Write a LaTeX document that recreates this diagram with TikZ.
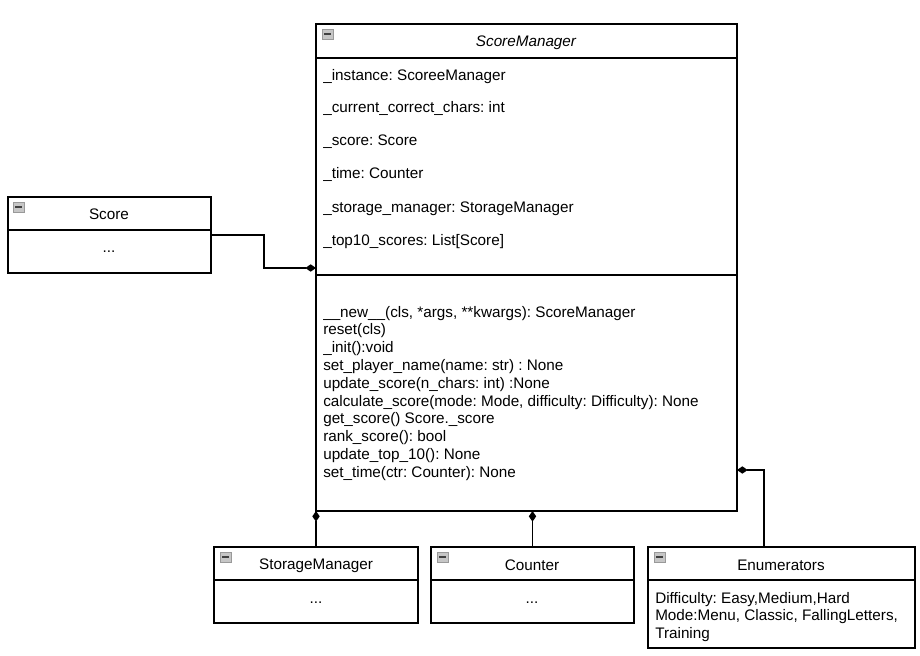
\documentclass[tikz,border=0pt]{standalone}
\usepackage{fontspec}
\setmainfont{Liberation Sans}
\usetikzlibrary{arrows.meta}
\frenchspacing
\begin{document}
\begin{tikzpicture}[x=0.75pt,y=-0.75pt,
  box/.style={draw=black,line width=0.9pt,anchor=north west,inner sep=0pt,outer sep=0pt},
  txt/.style={font=\fontsize{11.45pt}{12pt}\selectfont,inner sep=0pt,anchor=west,yshift=-1.2pt},
  ttl/.style={font=\fontsize{11.45pt}{12pt}\selectfont,inner sep=0pt,yshift=-1.2pt},
  div/.style={line width=0.9pt},
  comp/.style={line width=0.9pt,{Diamond[length=8pt,width=5.5pt]}-},
  icon/.style={draw=gray!80,fill=gray!45,line width=0.5pt}]
\useasboundingbox (0,0) rectangle (920,656);
% ScoreManager
\node[box,minimum width={421*0.75pt},minimum height={487*0.75pt}] (sm) at (316,24) {};
\draw[div] (316,58) -- (737,58);
\draw[div] (316,275) -- (737,275);
\node[ttl,font=\fontsize{11.45pt}{12pt}\selectfont\itshape] (smt) at (526,41) {ScoreManager};
\foreach \yy/\t [count=\i] in {75/\_instance: ScoreeManager,107/\_current\_correct\_chars: int,140/\_score: Score,173/\_time: Counter,207/\_storage\_manager: StorageManager,240/\_top10\_scores: List[Score]}
  \node[txt] (sma\i) at (323,\yy) {\t};
\foreach \yy/\t [count=\i] in {312/\_\_new\_\_(cls{,} *args{,} **kwargs): ScoreManager,329/reset(cls),347/\_init():void,365/set\_player\_name(name: str) : None,383/update\_score(n\_chars: int) :None,401/calculate\_score(mode: Mode{,} difficulty: Difficulty): None,418/get\_score() Score.\_score,436/rank\_score(): bool,454/update\_top\_10(): None,472/set\_time(ctr: Counter): None}
  \node[txt] (smm\i) at (323,\yy) {\t};
% Score
\node[box,minimum width={203*0.75pt},minimum height={76*0.75pt}] (sc) at (8,197) {};
\draw[div] (8,230) -- (211,230);
\node[ttl] (sct) at (109,213) {Score};
\node[ttl] (scd) at (109,250) {...};
% StorageManager
\node[box,minimum width={204*0.75pt},minimum height={76*0.75pt}] (st) at (214,547) {};
\draw[div] (214,580) -- (418,580);
\node[ttl] (stt) at (316,564) {StorageManager};
\node[ttl] (std) at (316,601) {...};
% Counter
\node[box,minimum width={203*0.75pt},minimum height={76*0.75pt}] (ct) at (431,547) {};
\draw[div] (431,580) -- (634,580);
\node[ttl] (ctt) at (532,564) {Counter};
\node[ttl] (ctd) at (532,601) {...};
% Enumerators
\node[box,minimum width={267*0.75pt},minimum height={101*0.75pt}] (en) at (648,547) {};
\draw[div] (648,580) -- (915,580);
\node[ttl] (ent) at (781,564) {Enumerators};
\node[txt] (en1) at (655,598) {Difficulty: Easy,Medium,Hard};
\node[txt] (en2) at (655,615) {Mode:Menu, Classic, FallingLetters,};
\node[txt] (en3) at (655,633) {Training};
% icons
\foreach \ix/\iy in {322/29,13/202,220/552,437/552,654/552}{
  \draw[icon] (\ix,\iy) rectangle ++(11,10);
  \draw[line width=1pt,black!75] (\ix+2,\iy+5) -- ++(7,0);
}
% connectors
\coordinate (c1) at (316,268);
\coordinate (c2) at (737,470);
\draw[comp] (c1) -- (264,268) -- (264,235) -- (sc.east |- 0,235);
\draw[comp] (sm.south west) -- (st.north west -| sm.south west);
\draw[comp] (sm.south -| ct.north) -- (ct.north);
\draw[comp] (c2) -- (764,470) -- (en.north -| 764,0);
\end{tikzpicture}
\end{document}
